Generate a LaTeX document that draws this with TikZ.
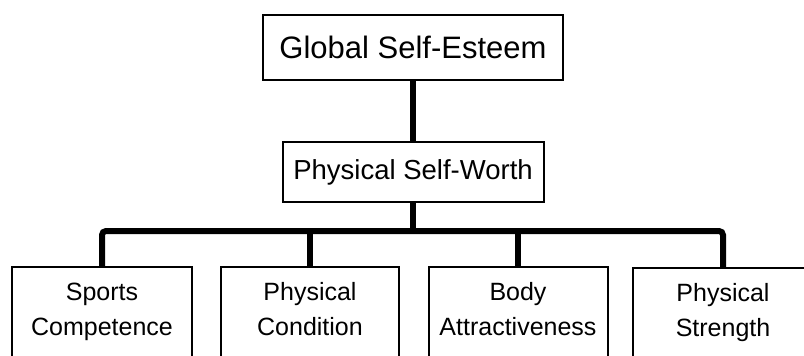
\documentclass[tikz,border=0pt]{standalone}
\usepackage{fontspec}
\setmainfont{Liberation Sans}
% two-line label with equal line heights in every box
\newcommand{\twolines}[2]{\vphantom{Pg}#1\\\vphantom{Pg}#2}
\begin{document}
\begin{tikzpicture}[x=1pt,y=-1pt,
  box/.style={draw,line width=2pt,inner sep=0pt,align=center},
  topbox/.style={box,font=\fontsize{31}{36}\selectfont},
  midbox/.style={box,font=\fontsize{27.5}{32}\selectfont},
  leafbox/.style={box,anchor=north,minimum width=180pt,minimum height=90pt,
    font=\fontsize{25}{35}\selectfont},
  link/.style={line width=6pt,rounded corners=4pt}]
\clip (0,0) rectangle (804,356);
\fill[white] (0,0) rectangle (804,356);

% hierarchy boxes
\node[topbox,minimum width=300pt,minimum height=65pt] (g) at (413,47.5) {Global Self-Esteem};
\node[midbox,minimum width=261pt,minimum height=60pt] (p) at (413,172) {Physical Self-Worth};

\node[leafbox] (b1) at (102,266) {\twolines{Sports}{Competence}};
\node[leafbox,minimum width=178pt] (b2) at (310,266) {\twolines{Physical}{Condition}};
\node[leafbox,minimum width=179pt] (b3) at (518,266) {\twolines{Body}{Attractiveness}};
\node[leafbox] (b4) at (723,267) {\twolines{Physical}{Strength}};

% connectors
\coordinate (bus) at (413,231);
\draw[link] (g.south) -- (p.north);
\draw[link] (p.south) -- (bus);
\draw[link] (b1.north) |- (bus) -| (b4.north);
\draw[link] (b2.north) -- (b2.north |- bus);
\draw[link] (b3.north) -- (b3.north |- bus);
\end{tikzpicture}
\end{document}
